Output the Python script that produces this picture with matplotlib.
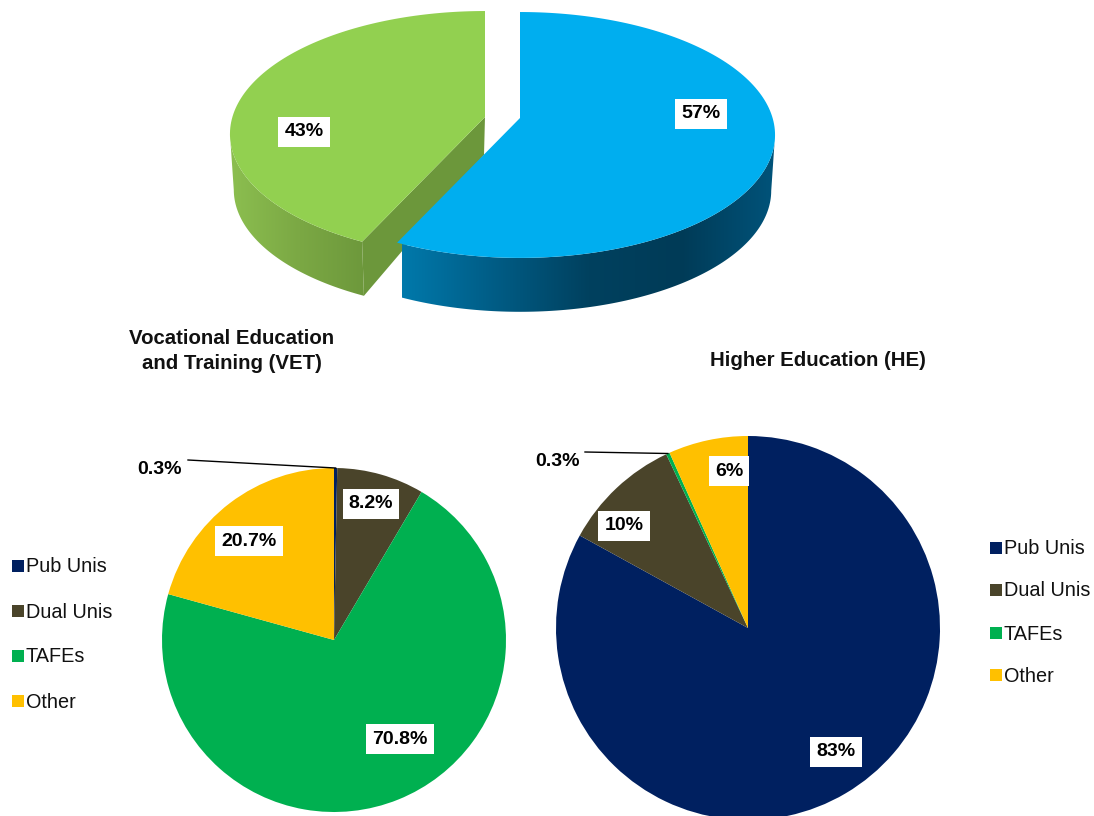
import numpy as np
import matplotlib
matplotlib.use('Agg')
import matplotlib.pyplot as plt
from matplotlib.colors import LinearSegmentedColormap
from matplotlib.patches import Polygon

plt.rcParams['font.family'] = ['Liberation Sans', 'DejaVu Sans']

W, H = 1094, 816

# top pie
sector_names = ['HE', 'VET']
sector_shares = [57, 43]

# bottom pies
categories = ['Pub Unis', 'Dual Unis', 'TAFEs', 'Other']
vet_values = [0.3, 8.2, 70.8, 20.7]
he_values = [83, 10, 0.3, 6.7]
vet_labels = ['0.3%', '8.2%', '70.8%', '20.7%']
he_labels = ['83%', '10%', '0.3%', '6%']
colors = ['#002060', '#4A442A', '#00B050', '#FFC000']


def py(y):
    # picture y (from the top) to axes y
    return H - y


def rim(cx, cy, theta, drop=0, scale=1.0):
    # tilted disc with some perspective, theta in degrees clockwise from the top
    k, a, b = 0.138, 120.6, 252.6
    t = np.radians(theta)
    u, v = np.sin(t), np.cos(t)
    x = cx + scale * b * u / (1 + k * v)
    y = cy - scale * a * v / (1 + k * v) + drop
    return np.column_stack([x, py(y)])


def gradient_fill(ax, pts, stops, x0, x1, z):
    cmap = LinearSegmentedColormap.from_list('side', stops)
    im = ax.imshow(np.linspace(0, 1, 256).reshape(1, -1), cmap=cmap, aspect='auto',
                   extent=(x0, x1, 0, H), zorder=z)
    patch = Polygon(pts, closed=True, transform=ax.transData)
    im.set_clip_path(patch)
    return im


fig = plt.figure(figsize=(W / 100, H / 100), dpi=100)
ax = fig.add_axes([0, 0, 1, 1])

# ---- exploded 3D pie ----
DEPTH = 56
blue_sweep = 360 * sector_shares[0] / sum(sector_shares)
blue_c = (520, 118)
green_c = (485, 117)

# green slice, inner wall first
green_start = rim(*green_c, np.array([blue_sweep]))
green_low = rim(*green_c, np.array([blue_sweep]), drop=DEPTH, scale=0.985)
apex = np.array([[green_c[0], py(green_c[1])]])
apex_low = np.array([[green_c[0] - 1, py(green_c[1] + 38)]])
ax.add_patch(Polygon(np.vstack([apex, green_start, green_low, apex_low]),
                     fc='#6C973B', ec='none', zorder=2))

# walls stop at the silhouette of the disc (theta 98 and 262)
arc = np.linspace(blue_sweep, 262, 60)
side = np.vstack([rim(*green_c, arc), rim(*green_c, arc[::-1], drop=DEPTH, scale=0.985)])
gradient_fill(ax, side, ['#8CBF50', '#7BA844', '#6C973B'], 229, 370, 3)

arc = np.linspace(blue_sweep, 360, 120)
ax.add_patch(Polygon(np.vstack([apex, rim(*green_c, arc)]), fc='#92D050', ec='none', zorder=4))

# blue slice
arc = np.linspace(98, blue_sweep, 120)
side = np.vstack([rim(*blue_c, arc), rim(*blue_c, arc[::-1], drop=DEPTH, scale=0.985)])
gradient_fill(ax, side, ['#0079AB', '#005C85', '#00415F', '#003B57', '#00537A'], 402, 775, 5)

arc = np.linspace(0, blue_sweep, 160)
ax.add_patch(Polygon(np.vstack([[[blue_c[0], py(blue_c[1])]], rim(*blue_c, arc)]),
                     fc='#00AEEF', ec='none', zorder=6))

# ---- flat pies ----
vet_wedges, _ = ax.pie(vet_values, colors=colors, startangle=90, counterclock=False,
                       center=(334, py(640)), radius=172, frame=False)
he_wedges, _ = ax.pie(he_values, colors=colors, startangle=90, counterclock=False,
                      center=(748, py(628)), radius=192, frame=False)
ax.set_aspect('auto')
ax.set_xlim(0, W)
ax.set_ylim(0, H)
ax.axis('off')


def wedge_tip(w):
    mid = np.radians((w.theta1 + w.theta2) / 2)
    return w.center[0] + w.r * np.cos(mid), w.center[1] + w.r * np.sin(mid)


def pct_label(x, y, s, boxed=True):
    box = dict(fc='white', ec='none', pad=4.5) if boxed else None
    ax.text(x, py(y), s, fontsize=14, fontweight='bold', color='black', ha='center',
            va='center', bbox=box, zorder=10)


# data labels
pct_label(304, 132, f'{sector_shares[1]}%')
pct_label(701, 114, f'{sector_shares[0]}%')
vet_pos = [(160, 470), (371, 504), (400, 739), (249, 541)]
he_pos = [(836, 752), (624, 526), (557, 461), (729, 471)]
for s, (x, y) in zip(vet_labels, vet_pos):
    pct_label(x, y, s, boxed=s != '0.3%')
for s, (x, y) in zip(he_labels, he_pos):
    pct_label(x, y, s, boxed=s != '0.3%')

# leader lines for the tiny slices
tx, ty = wedge_tip(vet_wedges[0])
ax.plot([188, tx], [py(460), ty], color='black', lw=1, zorder=9)
tx, ty = wedge_tip(he_wedges[2])
ax.plot([585, tx], [py(452), ty], color='black', lw=1, zorder=9)

# legends
for x, ys in [(18, [566, 611, 656, 701]), (996, [548, 590, 633, 675])]:
    for name, c, y in zip(categories, colors, ys):
        ax.scatter([x], [py(y)], marker='s', s=64, color=c, linewidths=0, zorder=10)
        ax.text(x + 8, py(y + 1), name, fontsize=14.3, color='#111111', ha='left', va='center')

# section titles
ax.text(232, py(351), 'Vocational Education\nand Training (VET)', fontsize=14.7, fontweight='bold',
        ha='center', va='center', linespacing=1.35, color='#111111')
ax.text(818, py(361), 'Higher Education (HE)', fontsize=14.7, fontweight='bold',
        ha='center', va='center', color='#111111')

fig.savefig('out.png', dpi=100)
